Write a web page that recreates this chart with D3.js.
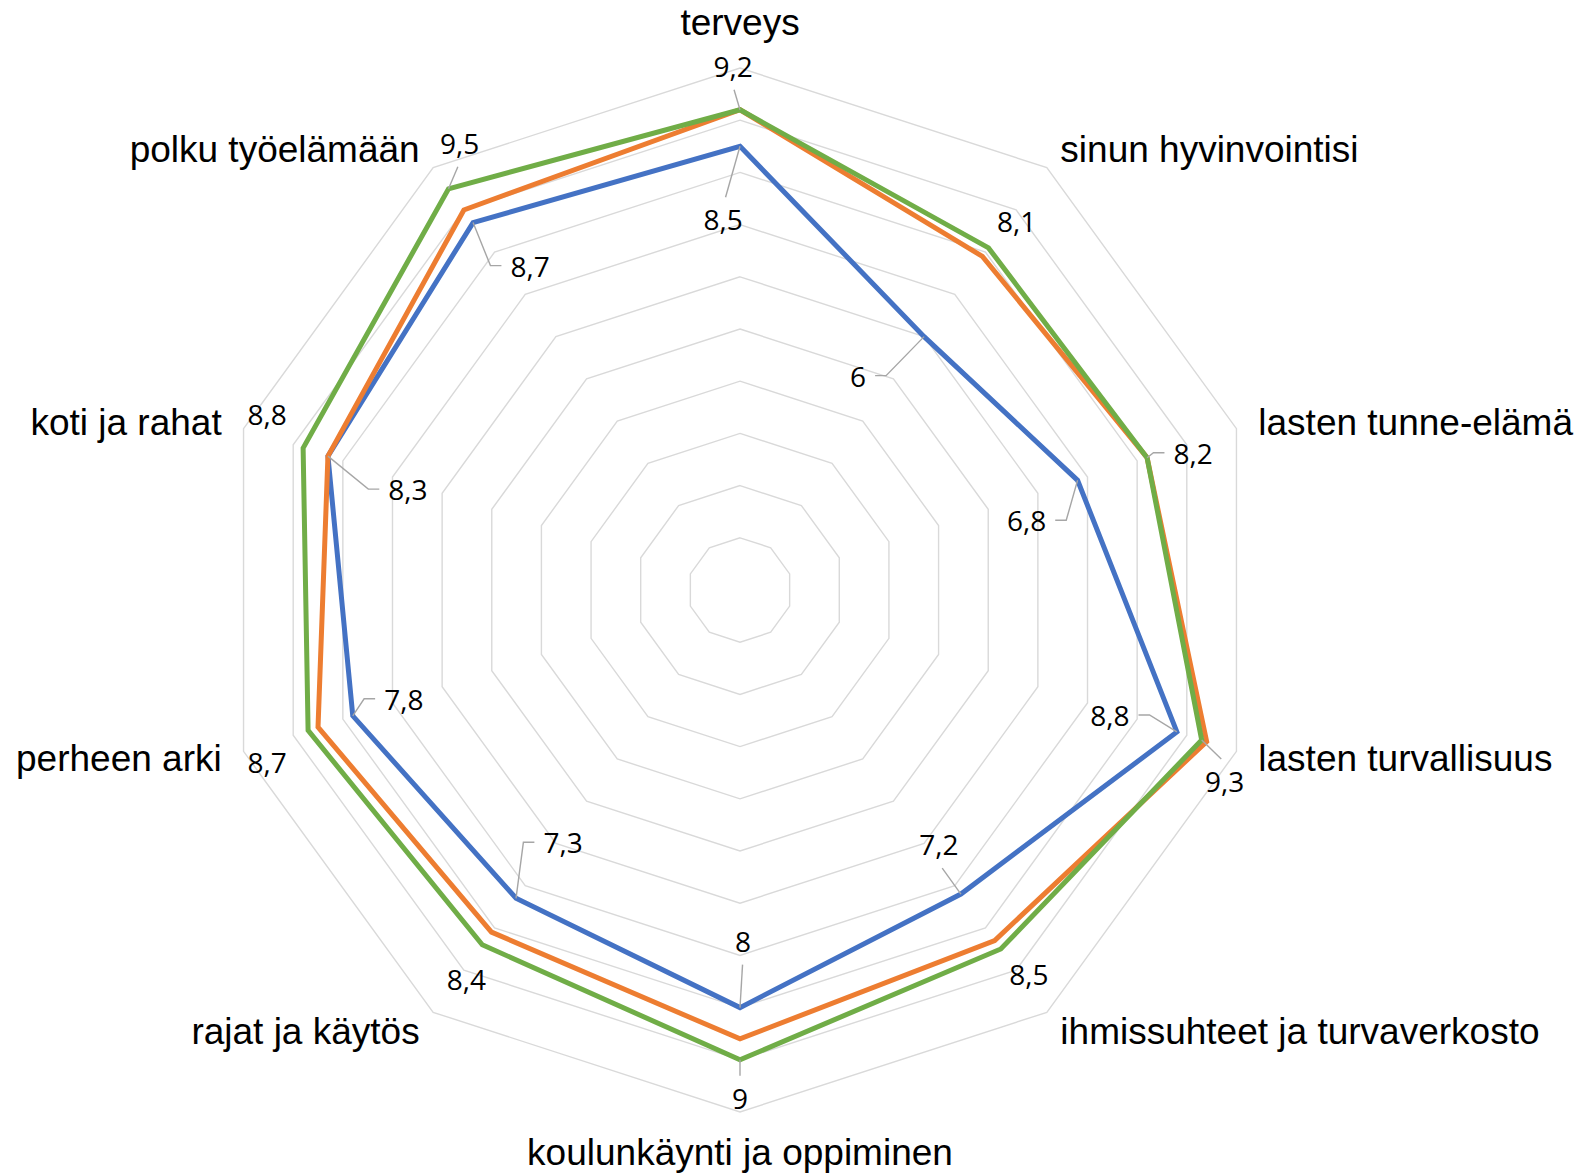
<!DOCTYPE html>
<html>
<head>
<meta charset="utf-8">
<script src="https://cdn.jsdelivr.net/npm/d3@7"></script>
<style>
  body { margin: 0; background: #fff; }
  svg { display: block; }
  .ring { fill: none; stroke: #d9d9d9; stroke-width: 1.4; }
  .series { fill: none; stroke-width: 5; stroke-linejoin: miter; }
  .cat { font-family: "Liberation Sans", Arial, sans-serif; font-size: 37px; fill: #000; }
  .val { font-family: "Open Sans", sans-serif; font-size: 28px; fill: #000; }
  .leader { fill: none; stroke: #a6a6a6; stroke-width: 1.4; }
</style>
</head>
<body>
<div id="chart"></div>
<script>
// categories, clockwise from the top
var categories = ["terveys", "sinun hyvinvointisi", "lasten tunne-elämä", "lasten turvallisuus",
  "ihmissuhteet ja turvaverkosto", "koulunkäynti ja oppiminen", "rajat ja käytös",
  "perheen arki", "koti ja rahat", "polku työelämään"]

var blueValues   = [8.5, 6.0, 6.8, 8.8, 7.2, 8.0, 7.3, 7.8, 8.3, 8.7]
var orangeValues = [9.2, 7.9, 8.2, 9.4, 8.3, 8.6, 8.1, 8.5, 8.3, 9.0]
var greenValues  = [9.2, 8.1, 8.2, 9.3, 8.5, 9.0, 8.4, 8.7, 8.8, 9.5]

var ringTicks = [1, 2, 3, 4, 5, 6, 7, 8, 9, 10]

// data label placement (pixel offset of label centre from its point)
var blueLabelOffset = [[-17, 74], [-66, 40], [-51, 41], [-67, -16], [-22, -49],
  [3, -66], [47, -55], [51, -16], [80, 34], [57, 44]]
var greenLabelOffset = [[-7, -43], [28, -26], [46, -4], [23, 42], [28, 26],
  [0, 39], [-16, 35], [-41, 33], [-36, -33], [11, -45]]
var blueLeader  = [1, 1, 1, 1, 1, 1, 1, 1, 1, 1]
var greenLeader = [1, 0, 1, 1, 0, 1, 0, 0, 0, 1]

var width = 1580, height = 1175
var cx = 740, cy = 590, R = 522

var svg = d3.select("#chart").append("svg")
    .attr("width", width)
    .attr("height", height)

svg.append("rect").attr("width", width).attr("height", height).attr("fill", "#fff")

var g = svg.append("g").attr("transform", "translate(" + cx + "," + cy + ")")

var r = d3.scaleLinear().domain([0, 10]).range([0, R])
var angle = d3.scalePoint().domain(d3.range(categories.length)).range([0, 2 * Math.PI * (1 - 1 / categories.length)])

function polar(i, rad) {
  var a = angle(i)
  return [rad * Math.sin(a), -rad * Math.cos(a)]
}

// grid rings (no spokes)
var ringLine = d3.lineRadial()
    .angle(function(d) { return angle(d) })
    .curve(d3.curveLinearClosed)

g.selectAll("path.ring")
    .data(ringTicks)
    .enter().append("path")
    .attr("class", "ring")
    .attr("d", function(t) { return ringLine.radius(r(t))(d3.range(categories.length)) })

// series
var series = [
  { values: blueValues, color: "#4472c4" },
  { values: orangeValues, color: "#ed7d31" },
  { values: greenValues, color: "#70ad47" }
]

var seriesLine = d3.lineRadial()
    .angle(function(d, i) { return angle(i) })
    .radius(function(d) { return r(d) })
    .curve(d3.curveLinearClosed)

g.selectAll("path.series")
    .data(series)
    .enter().append("path")
    .attr("class", "series")
    .attr("stroke", function(d) { return d.color })
    .attr("d", function(d) { return seriesLine(d.values) })

// category labels
var catLayer = g.append("g")
categories.forEach(function(c, i) {
  var a = angle(i), s = Math.sin(a)
  var pad = Math.abs(s) < 0.1 ? (Math.cos(a) > 0 ? 568 : 562) : 545
  var p = polar(i, pad)
  catLayer.append("text")
      .attr("class", "cat")
      .attr("x", p[0])
      .attr("y", p[1])
      .attr("dy", "0.35em")
      .attr("text-anchor", s > 0.1 ? "start" : (s < -0.1 ? "end" : "middle"))
      .text(c)
})

// data labels with leader lines
var fmt = function(v) { return String(v).replace(".", ",") }
var labelLayer = g.append("g")

function drawLabels(values, offsets, leaders) {
  values.forEach(function(v, i) {
    var p = polar(i, r(v))
    var lx = p[0] + offsets[i][0], ly = p[1] + offsets[i][1]
    var t = labelLayer.append("text")
        .attr("class", "val")
        .attr("x", lx)
        .attr("y", ly)
        .attr("dy", "0.36em")
        .attr("text-anchor", "middle")
        .text(fmt(v))
    if (!leaders[i]) return
    var w = t.node().getComputedTextLength()
    var dx = p[0] - lx, dy = p[1] - ly
    var pts
    if (Math.abs(dx) > w / 2 + 8) {
      var sgn = dx > 0 ? 1 : -1
      var x0 = lx + sgn * (w / 2 + 9)
      pts = [[x0, ly - 1], [x0 + sgn * 11, ly - 1], p]
    } else {
      var sv = dy > 0 ? 1 : -1
      pts = [[lx + dx * 0.15, ly + sv * 23], p]
    }
    labelLayer.append("path")
        .attr("class", "leader")
        .attr("d", d3.line()(pts))
  })
}

drawLabels(blueValues, blueLabelOffset, blueLeader)
drawLabels(greenValues, greenLabelOffset, greenLeader)
</script>
</body>
</html>
